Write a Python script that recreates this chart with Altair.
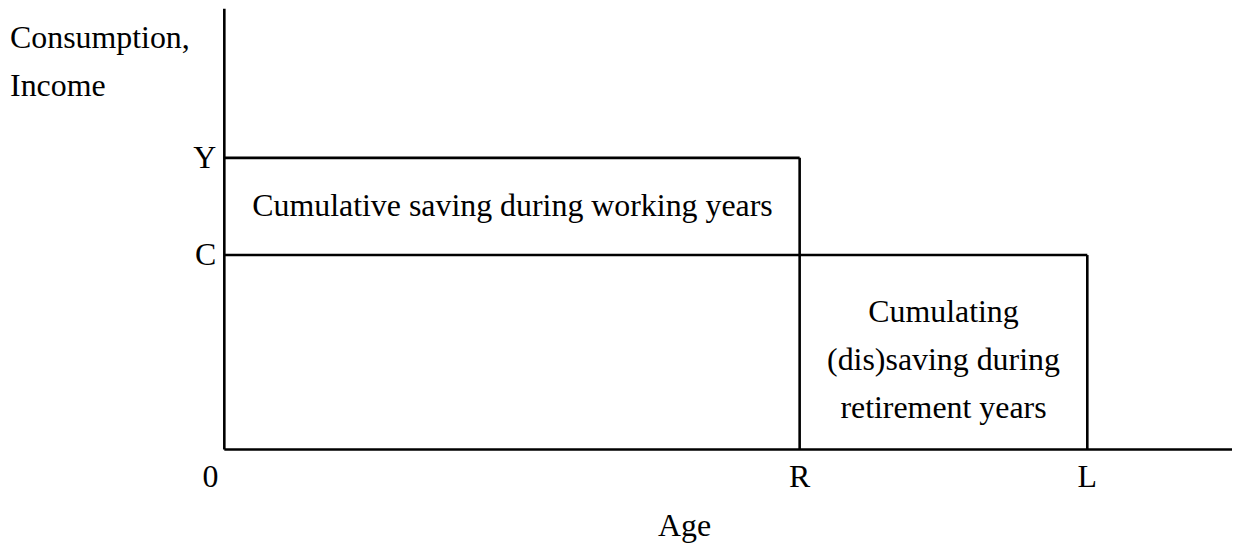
import altair as alt
import pandas as pd

# ---- data (abstract units) ----
age_labels = ["0", "R", "L"]
age_values = [0, 40, 60]
level_labels = ["C", "Y"]
level_values = [2, 3]
x_axis_end = 70.06
y_axis_end = 4.533

# scale domains chosen so the view fills the page
x_domain = [-15.04, 70.06]
y_domain = [-0.964, 4.533]

R = age_values[1]
L = age_values[2]
C = level_values[0]
Y = level_values[1]

segments = pd.DataFrame({
    "x":  [0, 0, 0, R, 0, L],
    "y":  [0, 0, Y, Y, C, C],
    "x2": [0, x_axis_end, R, R, L, L],
    "y2": [y_axis_end, 0, Y, 0, C, 0],
})

FONT = "Liberation Serif"
FS = 32

xs = alt.Scale(domain=x_domain, nice=False, zero=False)
ys = alt.Scale(domain=y_domain, nice=False, zero=False)

lines = alt.Chart(segments).mark_rule(color="black", strokeWidth=2.6).encode(
    x=alt.X("x:Q", scale=xs, axis=None),
    y=alt.Y("y:Q", scale=ys, axis=None),
    x2="x2:Q",
    y2="y2:Q",
)

def text_layer(df, align, baseline):
    return alt.Chart(df).mark_text(
        font=FONT, fontSize=FS, color="black", align=align, baseline=baseline
    ).encode(
        x=alt.X("x:Q", scale=xs, axis=None),
        y=alt.Y("y:Q", scale=ys, axis=None),
        text="t:N",
    )

# y-axis title (two lines, left aligned)
ytitle = pd.DataFrame({"x": [-14.90, -14.90], "y": [4.133, 3.641],
                       "t": ["Consumption,", "Income"]})
# level labels C, Y
levels = pd.DataFrame({"x": [-0.56] * len(level_labels), "y": level_values,
                       "t": level_labels})
# age labels 0, R, L
ages = pd.DataFrame({"x": [a - 0.97 if a == 0 else a for a in age_values],
                     "y": [-0.39] * len(age_values), "t": age_labels})
# x-axis title
xtitle = pd.DataFrame({"x": [32.0], "y": [-0.893], "t": ["Age"]})
# saving annotation
work = pd.DataFrame({"x": [1.94], "y": [2.40],
                     "t": ["Cumulative saving during working years"]})
retire = pd.DataFrame({"x": [50, 50, 50], "y": [1.312, 0.82, 0.328],
                       "t": ["Cumulating", "(dis)saving during", "retirement years"]})

chart = alt.layer(
    lines,
    text_layer(ytitle, "left", "alphabetic"),
    text_layer(levels, "right", "middle"),
    text_layer(ages, "center", "alphabetic"),
    text_layer(xtitle, "center", "alphabetic"),
    text_layer(work, "left", "alphabetic"),
    text_layer(retire, "center", "alphabetic"),
).properties(
    width=1228, height=536, padding=0,
    autosize=alt.AutoSizeParams(type="none"),
    background="white",
).configure_view(stroke=None)

chart.save("out.html", embed_options={"renderer": "svg", "actions": False})
